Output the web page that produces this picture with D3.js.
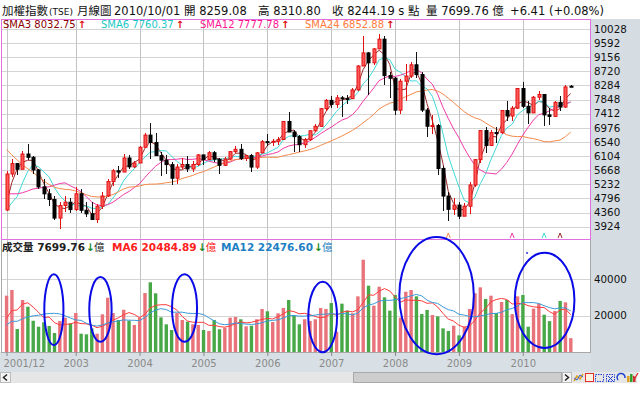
<!DOCTYPE html>
<html>
<head>
<meta charset="utf-8">
<script src="https://cdn.jsdelivr.net/npm/d3@7"></script>
<style>
  body { margin: 0; background: #000; }
  svg { display: block; }
  text { font-family: "DejaVu Sans", "Noto Sans CJK TC", sans-serif; }
</style>
</head>
<body>
<div id="chart"></div>
<script>
// monthly TAIEX, 2001/12 .. 2010/10
const opens = [4441, 5551, 5872, 5696, 6167, 6065, 5675, 5153, 4940, 4764, 4191, 4579, 4680,
  4452, 4941, 4432, 4321, 4148, 4555, 4872, 5318, 5650, 5611, 6045, 5771,
  5890, 6375, 6751, 6522, 6117, 5977, 5840, 5420, 5765, 5845, 5706, 5844,
  6139, 5994, 6207, 6006, 5819, 6012, 6241, 6312, 6033, 6118, 5764, 6203,
  6548, 6532, 6561, 6614, 7171, 6846, 6704, 6455, 6611, 6883, 7021, 7567,
  7823, 7699, 7901, 7884, 7875, 8145, 8883, 9287, 8982, 9411, 9711, 8586,
  8506, 7521, 8413, 8572, 8920, 8619, 7524, 7024, 7046, 5719, 4870, 4460,
  4591, 4248, 4557, 5210, 5993, 6890, 6432, 6829, 6826, 7509, 7340, 7582,
  8188, 7640, 7436, 7920, 8004, 7374, 7329, 7761, 7616, 8259.08];
const highs = [5653, 6011, 5877, 6252, 6484, 6100, 5720, 5398, 5080, 4876, 4681, 4862, 4799,
  5141, 5094, 4700, 4680, 4620, 5000, 5394, 5700, 5800, 6182, 6142, 5950,
  6400, 6810, 7135, 6815, 6220, 6136, 5920, 5860, 6040, 6117, 5950, 6160,
  6150, 6251, 6270, 6034, 6060, 6270, 6420, 6480, 6150, 6170, 6240, 6600,
  6780, 6620, 6680, 7200, 7476, 6920, 6760, 6650, 6900, 7100, 7600, 7860,
  7950, 8000, 7950, 8000, 8200, 8900, 9807, 9300, 9450, 9859, 9800, 8700,
  8550, 8480, 8950, 9000, 9309, 8700, 7600, 7380, 7100, 5800, 5000, 4800,
  4700, 4650, 5300, 6000, 6900, 7000, 6900, 7000, 7540, 7800, 7650, 8200,
  8395, 7800, 7950, 8100, 8010, 7600, 7800, 7950, 8300, 8310.80];
const lows = [4420, 5456, 5526, 5690, 5980, 5560, 5080, 4780, 4560, 4130, 3845, 4380, 4336,
  4410, 4360, 4222, 4121, 4044, 4480, 4842, 5180, 5430, 5611, 5700, 5750,
  5880, 6360, 6020, 6100, 5500, 5540, 5200, 5255, 5700, 5620, 5600, 5800,
  5830, 5994, 5930, 5565, 5800, 5980, 6190, 5980, 5950, 5620, 5720, 6190,
  6400, 6400, 6440, 6610, 6840, 6230, 6232, 6350, 6570, 6850, 7000, 7490,
  7600, 7600, 7300, 7700, 7870, 8100, 8880, 7987, 8900, 9400, 8300, 7900,
  7384, 7400, 7800, 8500, 8500, 7450, 6700, 6800, 5530, 4400, 4090, 4300,
  4164, 4300, 4320, 5150, 5900, 6200, 6400, 6500, 6800, 7200, 7200, 7550,
  7600, 7080, 7430, 7830, 7032, 7075, 7300, 7500, 7600, 8230];
const closes = [5551, 5872, 5696, 6167, 6065, 5675, 5153, 4940, 4764, 4191, 4579, 4680, 4452,
  4941, 4432, 4321, 4148, 4555, 4872, 5318, 5650, 5611, 6045, 5771, 5890,
  6375, 6751, 6522, 6117, 5977, 5840, 5420, 5765, 5845, 5706, 5844, 6139,
  5994, 6207, 6006, 5819, 6012, 6241, 6312, 6033, 6118, 5764, 6203, 6548,
  6532, 6561, 6614, 7171, 6846, 6704, 6455, 6611, 6883, 7021, 7567, 7823,
  7699, 7901, 7884, 7875, 8145, 8883, 9287, 8982, 9411, 9711, 8586, 8506,
  7521, 8413, 8572, 8920, 8619, 7524, 7024, 7046, 5719, 4870, 4460, 4591,
  4248, 4557, 5210, 5993, 6890, 6432, 6829, 6826, 7509, 7340, 7582, 8188,
  7640, 7436, 7920, 8004, 7374, 7329, 7761, 7616, 8238, 8244.19];
// 成交量 (億)
const volumes = [30850, 33950, 12700, 28500, 24850, 17200, 13950, 16350, 14350, 10500, 17050, 18870, 15800,
  21400, 10150, 9800, 13000, 10150, 20700, 29750, 21400, 17600, 23200, 17200, 14900,
  18870, 32300, 38150, 32150, 19050, 15250, 12150, 21400, 17600, 16700, 15250, 14900,
  12150, 11600, 17600, 12550, 13400, 18870, 19250, 18000, 14150, 14500, 18000, 23600,
  22350, 16500, 21250, 24150, 28500, 20300, 15250, 18000, 17050, 18000, 24150, 23600,
  26850, 11200, 26500, 22700, 21250, 30500, 50450, 36300, 25400, 35750, 29950, 22700,
  31250, 18870, 33000, 33950, 30500, 20850, 23050, 20300, 19600, 13050, 11600, 14500,
  9250, 13950, 23600, 32150, 35400, 29050, 30850, 21400, 27400, 28500, 20820, 30500,
  31250, 13950, 23800, 26500, 20500, 17000, 22500, 28000, 27210, 7699.76];
// months before the window, only used to seed the averages
const priorCloses = [9744, 9436, 9854, 8957, 8393, 8265, 7949, 7616, 6185, 5544, 5256, 4739,
  5936, 5674, 5797, 5381, 4935, 4882, 4624, 4561, 3636, 3903, 4441];
const priorVolumes = [9000, 13500, 12500, 11500, 11000, 9740, 8800, 10500, 9500, 20500, 31050];

const priceTicks = [10028, 9592, 9156, 8720, 8284, 7848, 7412, 6976, 6540, 6104, 5668, 5232, 4796, 4360, 3924];
const volTicks = [40000, 20000];
const xTickLabels = ['2001/12', '2003', '2004', '2005', '2006', '2007', '2008', '2009', '2010'];

const smaPeriods = [3, 6, 12, 24];
const smaColors = ['#9b2a2a', '#3fd9d9', '#f03aa8', '#f5894a'];
const smaLegend = ['SMA3 8032.75', 'SMA6 7760.37', 'SMA12 7777.78', 'SMA24 6852.88'];
const smaLegendColors = ['#8b0000', '#1cc8c8', '#ff1493', '#ff7a3c'];

const volLegend = ['成交量 7699.76', 'MA6 20484.89', 'MA12 22476.60'];
const volLegendColors = ['#222', '#ff2020', '#1f7fc4'];
const volMaColors = ['#ff3a3a', '#3a9ad9'];

// MA turn markers at the bottom of the price panel (month index, colour)
const turnMarks = [[83, '#f5894a'], [95, '#f03aa8'], [101, '#3fd9d9'], [104, '#9b2a2a']];
// hand drawn ellipses: centre month, centre volume, half width (months), half height (volume)
const circles = [[8.9, 23200, 1.8, 19300], [17.65, 23350, 2.1, 17650], [33.45, 24150, 2.35, 18450],
  [59.4, 19250, 2.7, 19250], [80.8, 30900, 7.0, 31900], [101.1, 28300, 5.6, 25900]];

const months = d3.timeMonth.range(new Date(2001, 11, 1), new Date(2010, 10, 1));
const n = closes.length;

const plotL = 1, plotR = 591;
const priceTop = 19, priceBot = 240, volBot = 352;

const x = d3.scaleLinear().domain([0, n - 1]).range([6.5, 570.7]);
const yP = d3.scaleLinear().domain([3924, 10028]).range([226.7, 28.9]);
const yV = d3.scaleLinear().domain([0, 40000]).range([352.3, 278.9]);

function sma(prior, arr, p) {
  const all = prior.concat(arr);
  return arr.map((d, i) => d3.mean(all.slice(i + prior.length - p + 1, i + prior.length + 1)));
}

const svg = d3.select('#chart').append('svg').attr('width', 640).attr('height', 397);
svg.append('rect').attr('width', 640).attr('height', 397).attr('fill', '#fff');
svg.append('rect').attr('x', plotR).attr('y', priceTop).attr('width', 640 - plotR).attr('height', 372 - priceTop).attr('fill', '#d5dce2');
svg.append('rect').attr('x', 0).attr('y', volBot).attr('width', plotR).attr('height', 372 - volBot).attr('fill', '#d9e0e5');

// header
const hdr = svg.append('g').attr('font-size', 11.5).attr('fill', '#111');
const hdrParts = [[2, '加權指數', 11.5], [49, '(TSE)', 9], [77, '月線圖', 11.5], [114, '2010/10/01', 11.5],
  [184, '開 8259.08', 11.5], [258, '高 8310.80', 11.5], [332, '收 8244.19 s 點', 11.5],
  [426, '量 7699.76 億', 11.5], [510, '+6.41 (+0.08%)', 11.5]];
hdrParts.forEach(([px, t, fs]) => hdr.append('text').attr('x', px).attr('y', 15).attr('font-size', fs).text(t));

// gridlines
const yearIdx = xTickLabels.map(l => {
  const p = l.split('/');
  const mo = p.length > 1 ? +p[1] - 1 : 0;
  return months.findIndex(m => m.getFullYear() === +p[0] && m.getMonth() === mo);
});
const grid = svg.append('g').attr('shape-rendering', 'crispEdges');
grid.selectAll('.hp').data(priceTicks).join('line')
  .attr('x1', plotL).attr('x2', plotR)
  .attr('y1', d => Math.round(yP(d)) + 0.5).attr('y2', d => Math.round(yP(d)) + 0.5)
  .attr('stroke', '#d4d4d4');
grid.selectAll('.hv').data(volTicks).join('line')
  .attr('x1', plotL).attr('x2', plotR)
  .attr('y1', d => Math.round(yV(d)) + 0.5).attr('y2', d => Math.round(yV(d)) + 0.5)
  .attr('stroke', '#d4d4d4');
grid.selectAll('.v').data(yearIdx).join('line')
  .attr('x1', d => Math.round(x(d)) + 0.5).attr('x2', d => Math.round(x(d)) + 0.5)
  .attr('y1', priceTop).attr('y2', volBot)
  .attr('stroke', '#c4c4c4');

// price moving averages
const smaG = svg.append('g').attr('fill', 'none').attr('stroke-width', 1);
smaPeriods.forEach((p, k) => {
  const vals = sma(priorCloses, closes, p);
  smaG.append('path').datum(vals)
    .attr('stroke', smaColors[k])
    .attr('d', d3.line().x((d, i) => x(i)).y(d => yP(d)));
});

// candles
const cg = svg.append('g');
const up = i => closes[i] >= opens[i];
cg.selectAll('line').data(d3.range(n)).join('line')
  .attr('x1', i => Math.round(x(i)) + 0.5).attr('x2', i => Math.round(x(i)) + 0.5)
  .attr('y1', i => yP(highs[i])).attr('y2', i => yP(lows[i]))
  .attr('stroke', i => up(i) ? '#e01010' : '#111')
  .attr('shape-rendering', 'crispEdges');
cg.selectAll('rect').data(d3.range(n)).join('rect')
  .attr('x', i => Math.round(x(i)) - 1)
  .attr('width', 3)
  .attr('y', i => yP(Math.max(opens[i], closes[i])))
  .attr('height', i => Math.max(1, Math.abs(yP(opens[i]) - yP(closes[i]))))
  .attr('fill', i => up(i) ? '#ff5a5a' : '#000')
  .attr('stroke', i => up(i) ? '#e01010' : '#000')
  .attr('stroke-width', 1);

// turn markers
svg.append('g').selectAll('path').data(turnMarks).join('path')
  .attr('d', d => `M${x(d[0]) - 2},238 L${x(d[0])},233 L${x(d[0]) + 2},238`)
  .attr('fill', 'none').attr('stroke', d => d[1]);

// price panel frame
svg.append('rect').attr('x', plotL + 0.5).attr('y', priceTop + 0.5)
  .attr('width', plotR - plotL - 1).attr('height', priceBot - priceTop - 1)
  .attr('fill', 'none').attr('stroke', '#e070e0');

// price legend
const lg = svg.append('g').attr('font-size', 10);
const legX = [3, 101, 200, 305];
smaLegend.forEach((t, k) => {
  const tx = lg.append('text').attr('x', legX[k]).attr('y', 28).attr('fill', smaLegendColors[k]).text(t);
  const w = tx.node().getComputedTextLength();
  lg.append('text').attr('x', legX[k] + w + 2).attr('y', 28).attr('fill', '#e01010')
    .attr('font-weight', 'bold').text('↑');
});

// right price axis
const ra = svg.append('g').attr('transform', `translate(${plotR},0)`)
  .call(d3.axisRight(yP).tickValues(priceTicks).tickSize(0).tickPadding(3).tickFormat(d3.format('d')));
ra.select('.domain').remove();
ra.selectAll('text').attr('font-size', 10.3).attr('fill', '#111').attr('font-family', null);

// volume bars
const barColor = i => {
  const prev = i === 0 ? priorCloses[priorCloses.length - 1] : closes[i - 1];
  return closes[i] >= prev ? '#e8737b' : '#48a848';
};
svg.append('g').selectAll('rect').data(d3.range(n)).join('rect')
  .attr('x', i => x(i) - 1.6).attr('width', 3.4)
  .attr('y', i => yV(volumes[i])).attr('height', i => yV(0) - yV(volumes[i]))
  .attr('fill', barColor);

// volume moving averages
[6, 12].forEach((p, k) => {
  svg.append('path').datum(sma(priorVolumes, volumes, p))
    .attr('fill', 'none').attr('stroke', volMaColors[k]).attr('stroke-width', 1)
    .attr('d', d3.line().x((d, i) => x(i)).y(d => yV(d)));
});

// volume panel frame
svg.append('path').attr('d', `M${plotL + 0.5},${priceBot} V${volBot + 0.5} H${plotR - 0.5} V${priceBot}`)
  .attr('fill', 'none').attr('stroke', '#a8a8a8').attr('shape-rendering', 'crispEdges');

// volume legend
const vlg = svg.append('g').attr('font-size', 10.5).attr('font-weight', 'bold');
const vlegX = [2, 112, 221];
volLegend.forEach((t, k) => {
  const tx = vlg.append('text').attr('x', vlegX[k]).attr('y', 251).attr('fill', volLegendColors[k]).text(t);
  const w = tx.node().getComputedTextLength();
  vlg.append('text').attr('x', vlegX[k] + w + 1).attr('y', 251).attr('fill', '#1a8a1a').text('↓');
  vlg.append('text').attr('x', vlegX[k] + w + 9).attr('y', 251).attr('fill', volLegendColors[k])
    .attr('font-weight', 'normal').text('億');
});

// right volume axis
const rv = svg.append('g').attr('transform', `translate(${plotR},0)`)
  .call(d3.axisRight(yV).tickValues(volTicks).tickSize(0).tickPadding(3).tickFormat(d3.format('d')));
rv.select('.domain').remove();
rv.selectAll('text').attr('font-size', 10.3).attr('fill', '#111').attr('font-family', null);

// x axis
const xa = svg.append('g').attr('transform', `translate(0,${volBot})`)
  .call(d3.axisBottom(x).tickValues(yearIdx).tickSize(4).tickPadding(4)
    .tickFormat((d, i) => xTickLabels[i]));
xa.select('.domain').remove();
xa.selectAll('line').attr('stroke', '#888');
xa.selectAll('text').attr('font-size', 10).attr('fill', '#8a8a8a').attr('font-family', null);
xa.select('.tick text').attr('text-anchor', 'start').attr('x', 3 - x(0));

// annotation ellipses
svg.append('g').selectAll('ellipse').data(circles).join('ellipse')
  .attr('cx', d => x(d[0])).attr('cy', d => yV(d[1]))
  .attr('rx', d => x(d[2]) - x(0)).attr('ry', d => yV(0) - yV(d[3]))
  .attr('fill', 'none').attr('stroke', '#0a0ae6').attr('stroke-width', 2);
svg.append('circle').attr('cx', x(97.8)).attr('cy', yV(54100)).attr('r', 1).attr('fill', '#3030e0');

// scroll bar row
const sb = svg.append('g').attr('shape-rendering', 'crispEdges');
sb.append('rect').attr('x', 0).attr('y', 372).attr('width', 637).attr('height', 11).attr('fill', '#e6e6e6');
sb.append('rect').attr('x', 0.5).attr('y', 372.5).attr('width', 10).attr('height', 10).attr('fill', '#f4f4f4').attr('stroke', '#bbb');
sb.append('rect').attr('x', 353.5).attr('y', 372.5).attr('width', 208).attr('height', 10).attr('fill', '#cdcdcd').attr('stroke', '#a8a8a8');
sb.append('rect').attr('x', 562.5).attr('y', 372.5).attr('width', 9).attr('height', 10).attr('fill', '#f4f4f4').attr('stroke', '#bbb');
svg.append('path').attr('d', 'M7,374.5 L3.5,377.5 L7,380.5').attr('fill', 'none').attr('stroke', '#222').attr('stroke-width', 1.5);
svg.append('path').attr('d', 'M565,374.5 L568.5,377.5 L565,380.5').attr('fill', 'none').attr('stroke', '#222').attr('stroke-width', 1.5);
// toolbar icons
const ic = svg.append('g');
ic.append('path').attr('d', 'M574,381 L577,376 L580,379 L583,374').attr('fill', 'none').attr('stroke', '#e0a020').attr('stroke-width', 1.5);
ic.append('path').attr('d', 'M574,378 L577,380 L580,375 L583,377').attr('fill', 'none').attr('stroke', '#3060d0').attr('stroke-width', 1);
ic.append('rect').attr('x', 585.5).attr('y', 373.5).attr('width', 8).attr('height', 8).attr('fill', '#fff4e0').attr('stroke', '#e03030');
ic.append('rect').attr('x', 595.5).attr('y', 374.5).attr('width', 8).attr('height', 7).attr('fill', 'none').attr('stroke', '#2040d0').attr('stroke-dasharray', '1.5,1');
ic.append('rect').attr('x', 606.5).attr('y', 374.5).attr('width', 8).attr('height', 7).attr('fill', 'none').attr('stroke', '#2040d0').attr('stroke-dasharray', '1.5,1');
ic.append('path').attr('d', 'M608,376 L613,381 M613,376 L608,381').attr('stroke', '#2040d0');
ic.append('path').attr('d', 'M618,380 A4,4 0 1 1 625,378').attr('fill', 'none').attr('stroke', '#2040d0').attr('stroke-width', 1.5);
[[627, 6, '#e0a020'], [630, 8, '#30a030'], [633, 5, '#d03030']].forEach(([bx, bh, c]) =>
  ic.append('rect').attr('x', bx).attr('y', 382 - bh).attr('width', 2.5).attr('height', bh).attr('fill', c));
ic.append('path').attr('d', 'M633,376 L635,378 L638,373').attr('fill', 'none').attr('stroke', '#e02020').attr('stroke-width', 1.2);
</script>
</body>
</html>
